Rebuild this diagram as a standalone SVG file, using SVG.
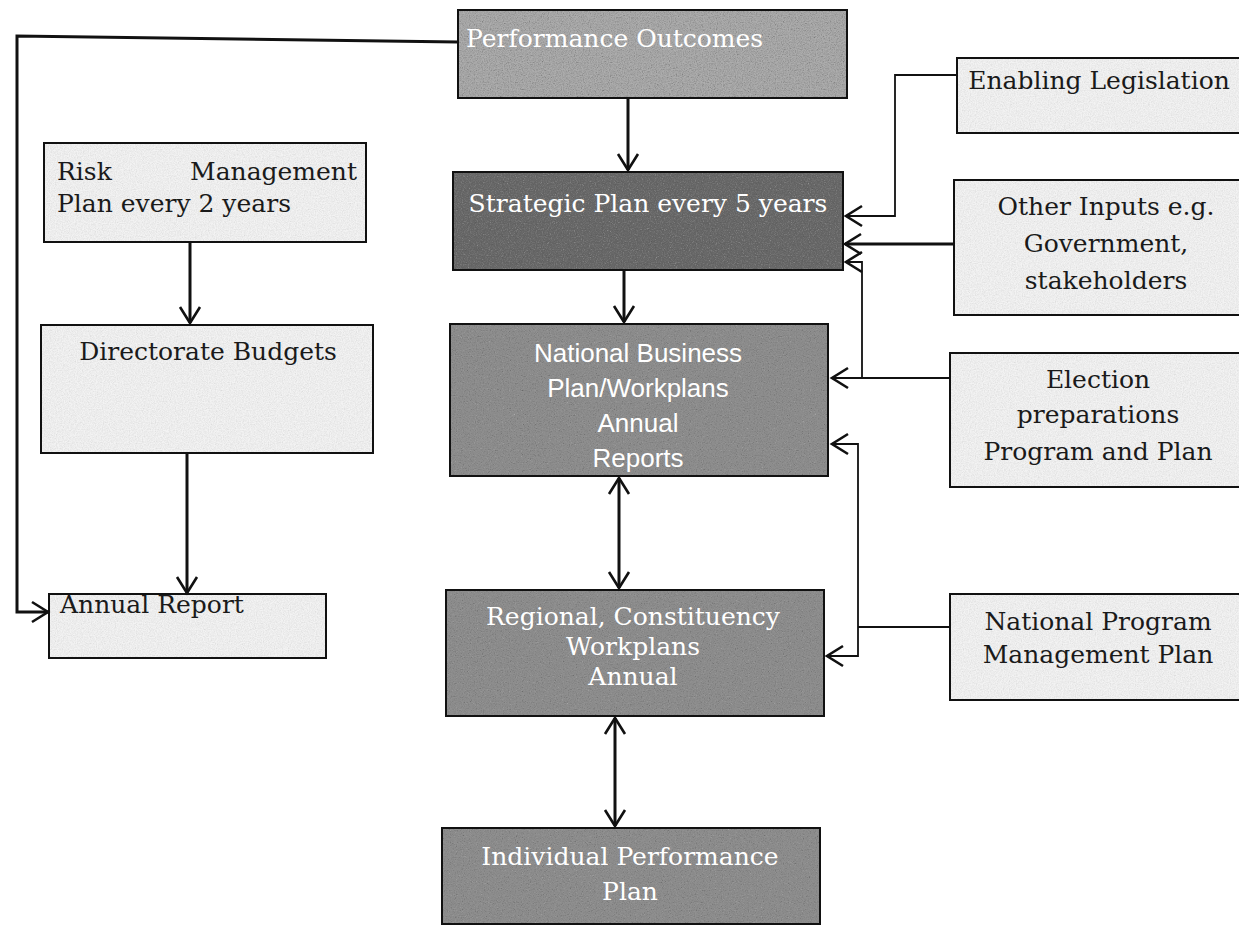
<svg xmlns="http://www.w3.org/2000/svg" width="1239" height="929" viewBox="0 0 1239 929">
<style>
.box{stroke:#111;stroke-width:2}
.light{fill:#f3f3f3}
.dark{fill:#8e8e8e}
.darker{fill:#636363}
.mid{fill:#adadad}
.noise{fill:#000;filter:url(#grain)}
.nl{opacity:0.18}
.nd{opacity:0.7}
.t{font-family:"DejaVu Serif","Liberation Serif",serif;font-size:25px;fill:#1a1a1a}
.w{font-family:"DejaVu Serif","Liberation Serif",serif;font-size:25px;fill:#ffffff}
.ws{font-family:"Liberation Sans","Open Sans",sans-serif;font-size:26px;fill:#ffffff}
.c{stroke:#111;fill:none}
.thick{stroke-width:3}
.thin{stroke-width:1.8}
</style>
<defs>
<filter id="grain" x="0" y="0" width="100%" height="100%" color-interpolation-filters="sRGB">
<feTurbulence type="fractalNoise" baseFrequency="0.85" numOctaves="2" seed="4" result="n"/>
<feColorMatrix in="n" type="matrix" values="0.33 0.33 0.33 0 0  0.33 0.33 0.33 0 0  0.33 0.33 0.33 0 0  0 0 0 1.6 -0.5" result="g"/>
<feComposite in="g" in2="SourceGraphic" operator="in"/>
</filter>
<marker id="ah" markerUnits="userSpaceOnUse" markerWidth="24" markerHeight="26" refX="19" refY="12" orient="auto-start-reverse">
<path d="M3,2 L19,12 L3,22" fill="none" stroke="#111" stroke-width="2.6"/>
</marker>
</defs>
<rect width="1239" height="929" fill="#ffffff"/>

<g id="performance-outcomes">
<rect class="box mid" x="458" y="10" width="389" height="88"/>
<rect class="noise nd" x="459" y="11" width="387" height="86"/>
<text class="w" x="466" y="47">Performance Outcomes</text>
</g>
<g id="strategic-plan">
<rect class="box darker" x="453" y="172" width="390" height="98"/>
<rect class="noise nd" x="454" y="173" width="388" height="96"/>
<text class="w" x="648" y="212" text-anchor="middle">Strategic Plan every 5 years</text>
</g>
<g id="national-business-plan">
<rect class="box dark" x="450" y="324" width="378" height="152"/>
<rect class="noise nd" x="451" y="325" width="376" height="150"/>
<text class="ws" x="638" y="362" text-anchor="middle">National Business</text>
<text class="ws" x="638" y="397" text-anchor="middle">Plan/Workplans</text>
<text class="ws" x="638" y="432" text-anchor="middle">Annual</text>
<text class="ws" x="638" y="467" text-anchor="middle">Reports</text>
</g>
<g id="regional-workplans">
<rect class="box dark" x="446" y="590" width="378" height="126"/>
<rect class="noise nd" x="447" y="591" width="376" height="124"/>
<text class="w" x="633" y="625" text-anchor="middle">Regional, Constituency</text>
<text class="w" x="633" y="655" text-anchor="middle">Workplans</text>
<text class="w" x="633" y="685" text-anchor="middle">Annual</text>
</g>
<g id="individual-performance-plan">
<rect class="box dark" x="442" y="828" width="378" height="96"/>
<rect class="noise nd" x="443" y="829" width="376" height="94"/>
<text class="w" x="630" y="865" text-anchor="middle">Individual Performance</text>
<text class="w" x="630" y="900" text-anchor="middle">Plan</text>
</g>

<g id="risk-management">
<rect class="box light" x="44" y="143" width="322" height="99"/>
<rect class="noise nl" x="45" y="144" width="320" height="97"/>
<text class="t" x="57" y="180">Risk</text>
<text class="t" x="357" y="180" text-anchor="end">Management</text>
<text class="t" x="57" y="212">Plan every 2 years</text>
</g>
<g id="directorate-budgets">
<rect class="box light" x="41" y="325" width="332" height="128"/>
<rect class="noise nl" x="42" y="326" width="330" height="126"/>
<text class="t" x="208" y="360" text-anchor="middle">Directorate Budgets</text>
</g>
<g id="annual-report">
<rect class="box light" x="49" y="594" width="277" height="64"/>
<rect class="noise nl" x="50" y="595" width="275" height="62"/>
<text class="t" x="60" y="613">Annual Report</text>
</g>

<g id="enabling-legislation">
<rect class="box light" x="957" y="58" width="290" height="75"/>
<rect class="noise nl" x="958" y="59" width="281" height="73"/>
<text class="t" x="1099" y="89" text-anchor="middle">Enabling Legislation</text>
</g>
<g id="other-inputs">
<rect class="box light" x="954" y="180" width="293" height="135"/>
<rect class="noise nl" x="955" y="181" width="284" height="133"/>
<text class="t" x="1106" y="215" text-anchor="middle">Other Inputs e.g.</text>
<text class="t" x="1106" y="252" text-anchor="middle">Government,</text>
<text class="t" x="1106" y="289" text-anchor="middle">stakeholders</text>
</g>
<g id="election-preparations">
<rect class="box light" x="950" y="353" width="297" height="134"/>
<rect class="noise nl" x="951" y="354" width="288" height="132"/>
<text class="t" x="1098" y="388" text-anchor="middle">Election</text>
<text class="t" x="1098" y="423" text-anchor="middle">preparations</text>
<text class="t" x="1098" y="460" text-anchor="middle">Program and Plan</text>
</g>
<g id="national-program-management">
<rect class="box light" x="950" y="594" width="297" height="106"/>
<rect class="noise nl" x="951" y="595" width="288" height="104"/>
<text class="t" x="1098" y="630" text-anchor="middle">National Program</text>
<text class="t" x="1098" y="663" text-anchor="middle">Management Plan</text>
</g>

<g id="connectors">
<path class="c thick" d="M628,98 V170" marker-end="url(#ah)"/>
<path class="c thick" d="M624,270 V322" marker-end="url(#ah)"/>
<path class="c thick" d="M619,478 V588" marker-start="url(#ah)" marker-end="url(#ah)"/>
<path class="c thick" d="M615,718 V826" marker-start="url(#ah)" marker-end="url(#ah)"/>
<path class="c thick" d="M458,42 L17,36 V612 H48" marker-end="url(#ah)"/>
<path class="c thick" d="M190,242 V323" marker-end="url(#ah)"/>
<path class="c thick" d="M187,453 V593" marker-end="url(#ah)"/>
<path class="c thin" d="M957,75 H895 V216 H846" marker-end="url(#ah)"/>
<path class="c thick" d="M954,244 H845" marker-end="url(#ah)"/>
<path class="c thin" d="M950,378 H832" marker-end="url(#ah)"/>
<path class="c thin" d="M862,378 V262 H846" marker-end="url(#ah)"/>
<path class="c thin" d="M950,627 H858"/>
<path class="c thin" d="M858,627 V444 H832" marker-end="url(#ah)"/>
<path class="c thin" d="M858,627 V656 H827" marker-end="url(#ah)"/>
</g>
</svg>
